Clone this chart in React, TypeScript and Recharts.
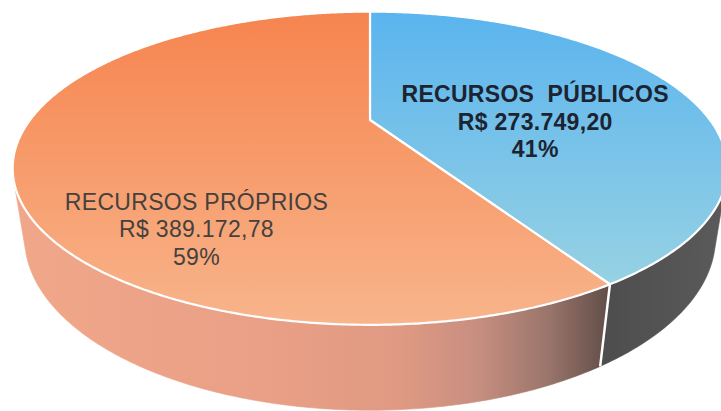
import React from 'react';
import { PieChart, Pie } from 'recharts';

// ---- data ----
const CATEGORIES = ['RECURSOS  PÚBLICOS', 'RECURSOS PRÓPRIOS'];
const VALUES = [273749.2, 389172.78];

const data = CATEGORIES.map((name, i) => ({ name, value: VALUES[i] }));

// ---- layout / style ----
const W = 721;
const H = 411;
const CX = 370;
const CY = 120;
const RADIUS = 340;
const COS_T = 0.417;
const SIN_T = Math.sqrt(1 - COS_T * COS_T);
const PERSP = 1004;
const DEPTH = 75;
const RAD = Math.PI / 180;

const TOP_FILL = ['url(#topBlue)', 'url(#topOrange)'];
const SIDE_FILL = ['url(#sideBlue)', 'url(#sideOrange)'];
const LABEL_STYLE = [
  { fill: '#1c2331', fontWeight: 700 },
  { fill: '#44413e', fontWeight: 400 },
];
const LABEL_NUDGE = [
  { dx: -1, dy: 29 },
  { dx: 8, dy: 96 },
];
const FONT = '"Liberation Sans", Arial, Helvetica, sans-serif';

function project(cx: number, cy: number, u: number, v: number, w: number): [number, number] {
  const y = -v * COS_T - w * SIN_T;
  const z = -v * SIN_T + w * COS_T;
  const s = PERSP / (PERSP - z);
  return [cx + u * s, cy + y * s];
}

function arcAngles(a0: number, a1: number, step = 0.5): number[] {
  const n = Math.max(2, Math.ceil(Math.abs(a1 - a0) / step) + 1);
  return Array.from({ length: n }, (_, i) => a0 + ((a1 - a0) * i) / (n - 1));
}

const fmt = (p: [number, number]) => `${p[0].toFixed(2)},${p[1].toFixed(2)}`;

function formatBRL(v: number): string {
  const [int, dec] = v.toFixed(2).split('.');
  const withDots = int.replace(/\B(?=(\d{3})+(?!\d))/g, '.');
  return `R$ ${withDots},${dec}`;
}

const renderSide = (p: any) => {
  const { cx, cy, outerRadius: r, startAngle, endAngle, index } = p;
  const visible = (a: number) => r + PERSP * Math.sin(a * RAD) * SIN_T < 0;
  const angles = arcAngles(startAngle, endAngle);
  const runs: number[][] = [];
  let cur: number[] = [];
  angles.forEach((a, i) => {
    const vis = visible(a) || (i > 0 && visible(angles[i - 1])) || (i < angles.length - 1 && visible(angles[i + 1]));
    if (vis) cur.push(a);
    else if (cur.length) {
      runs.push(cur);
      cur = [];
    }
  });
  if (cur.length) runs.push(cur);
  const paths = runs
    .filter((run) => run.length > 1)
    .map((run) => {
      const top = run.map((a) => project(cx, cy, r * Math.cos(a * RAD), r * Math.sin(a * RAD), 0));
      const bot = run
        .map((a) => project(cx, cy, r * Math.cos(a * RAD), r * Math.sin(a * RAD), -DEPTH))
        .reverse();
      return 'M' + [...top, ...bot].map(fmt).join('L') + 'Z';
    });
  const sa = startAngle * RAD;
  const edge = visible(startAngle)
    ? [project(cx, cy, r * Math.cos(sa), r * Math.sin(sa), 0), project(cx, cy, r * Math.cos(sa), r * Math.sin(sa), -DEPTH)]
    : null;
  return (
    <g key={`side-${index}`}>
      {paths.map((d, k) => (
        <path key={k} d={d} fill={SIDE_FILL[index]} stroke={SIDE_FILL[index]} strokeWidth={0.6} />
      ))}
      {edge && (
        <line x1={edge[0][0]} y1={edge[0][1]} x2={edge[1][0]} y2={edge[1][1]} stroke="#ffffff" strokeWidth={2.5} />
      )}
    </g>
  );
};

const renderTop = (p: any) => {
  const { cx, cy, outerRadius: r, startAngle, endAngle, index } = p;
  const c = project(cx, cy, 0, 0, 0);
  const pts = arcAngles(startAngle, endAngle).map((a) =>
    project(cx, cy, r * Math.cos(a * RAD), r * Math.sin(a * RAD), 0)
  );
  const d = 'M' + [c, ...pts].map(fmt).join('L') + 'Z';
  return (
    <path
      key={`top-${index}`}
      d={d}
      fill={TOP_FILL[index]}
      stroke="#ffffff"
      strokeWidth={2.2}
      strokeLinejoin="round"
    />
  );
};

const renderText = (p: any) => {
  const { cx, cy, outerRadius: r, midAngle, percent, index, value } = p;
  const name = p.name ?? p.payload?.name;
  const m = midAngle * RAD;
  const [bx, by] = project(cx, cy, 0.53 * r * Math.cos(m), 0.53 * r * Math.sin(m), 0);
  const x = bx + LABEL_NUDGE[index].dx;
  const y = by + LABEL_NUDGE[index].dy;
  return (
    <text
      key={`txt-${index}`}
      x={x}
      y={y}
      textAnchor="middle"
      fontFamily={FONT}
      fontSize={23}
      letterSpacing={0.3}
      xmlSpace="preserve"
      style={{ whiteSpace: 'pre' }}
      {...LABEL_STYLE[index]}
    >
      <tspan x={x} dy={-27.5}>{name}</tspan>
      <tspan x={x} dy={27.5}>{formatBRL(value)}</tspan>
      <tspan x={x} dy={27.5}>{`${Math.round(percent * 100)}%`}</tspan>
    </text>
  );
};

export default function App() {
  return (
    <div style={{ position: 'absolute', left: 0, top: 0, width: W, height: H, background: '#ffffff' }}>
      <svg width={0} height={0} style={{ position: 'absolute' }}>
        <defs>
          <linearGradient id="topOrange" gradientUnits="userSpaceOnUse" x1={0} y1={12} x2={0} y2={323}>
            <stop offset="0" stopColor="#f6844f" />
            <stop offset="0.5" stopColor="#f79c6c" />
            <stop offset="1" stopColor="#f8b48b" />
          </linearGradient>
          <linearGradient id="topBlue" gradientUnits="userSpaceOnUse" x1={0} y1={12} x2={0} y2={290}>
            <stop offset="0" stopColor="#5ab4ee" />
            <stop offset="1" stopColor="#98d2e3" />
          </linearGradient>
          <linearGradient id="sideOrange" gradientUnits="userSpaceOnUse" x1={0} y1={0} x2={721} y2={0}>
            <stop offset="0" stopColor="#f1a789" />
            <stop offset="0.35" stopColor="#eaa086" />
            <stop offset="0.55" stopColor="#e09a83" />
            <stop offset="0.66" stopColor="#c88f80" />
            <stop offset="0.76" stopColor="#9a756b" />
            <stop offset="0.85" stopColor="#5e4b46" />
          </linearGradient>
          <linearGradient id="sideBlue" gradientUnits="userSpaceOnUse" x1={0} y1={0} x2={721} y2={0}>
            <stop offset="0.8" stopColor="#4a4a4a" />
            <stop offset="1" stopColor="#5a5a5a" />
          </linearGradient>
        </defs>
      </svg>
      <PieChart width={W} height={H} margin={{ top: 0, right: 0, bottom: 0, left: 0 }}>
        <Pie
          data={data}
          dataKey="value"
          nameKey="name"
          cx={CX}
          cy={CY}
          outerRadius={RADIUS}
          startAngle={90}
          endAngle={-270}
          fill="none"
          stroke="none"
          label={renderSide}
          labelLine={false}
          isAnimationActive={false}
        />
        <Pie
          data={data}
          dataKey="value"
          nameKey="name"
          cx={CX}
          cy={CY}
          outerRadius={RADIUS}
          startAngle={90}
          endAngle={-270}
          fill="none"
          stroke="none"
          label={renderTop}
          labelLine={false}
          isAnimationActive={false}
        />
        <Pie
          data={data}
          dataKey="value"
          nameKey="name"
          cx={CX}
          cy={CY}
          outerRadius={RADIUS}
          startAngle={90}
          endAngle={-270}
          fill="none"
          stroke="none"
          label={renderText}
          labelLine={false}
          isAnimationActive={false}
        />
      </PieChart>
    </div>
  );
}
